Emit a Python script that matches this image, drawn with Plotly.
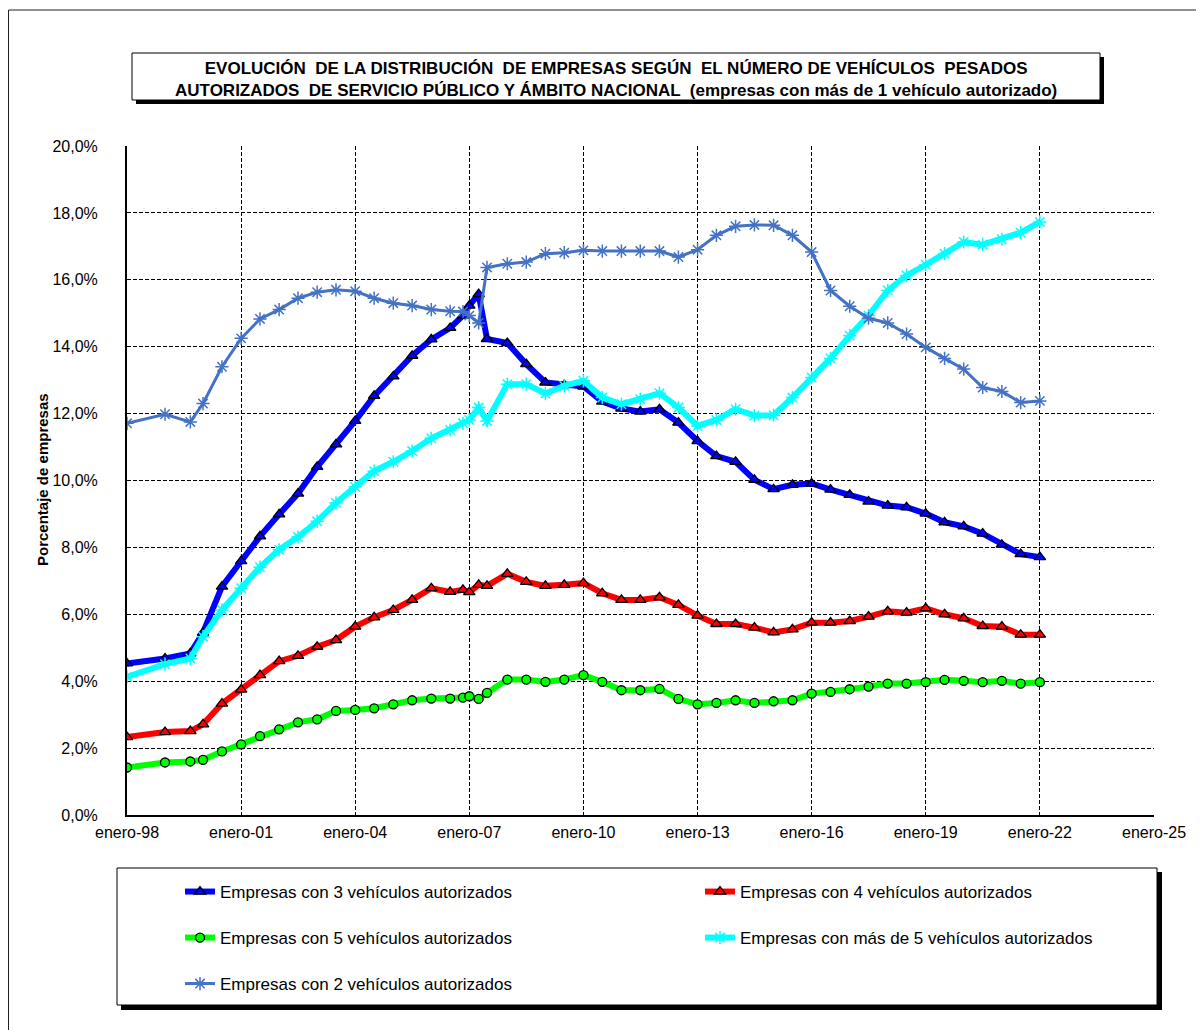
import plotly.graph_objects as go

# ---------------- data ----------------
fechas = ["1998-01-01", "1999-01-01", "1999-09-01", "2000-01-01", "2000-07-01",
          "2001-01-01", "2001-07-01", "2002-01-01", "2002-07-01", "2003-01-01",
          "2003-07-01", "2004-01-01", "2004-07-01", "2005-01-01", "2005-07-01",
          "2006-01-01", "2006-07-01", "2006-11-01", "2007-01-01", "2007-04-01",
          "2007-06-20", "2008-01-01", "2008-07-01", "2009-01-01", "2009-07-01",
          "2010-01-01", "2010-07-01", "2011-01-01", "2011-07-01", "2012-01-01",
          "2012-07-01", "2013-01-01", "2013-07-01", "2014-01-01", "2014-07-01",
          "2015-01-01", "2015-07-01", "2016-01-01", "2016-07-01", "2017-01-01",
          "2017-07-01", "2018-01-01", "2018-07-01", "2019-01-01", "2019-07-01",
          "2020-01-01", "2020-07-01", "2021-01-01", "2021-07-01", "2022-01-01"]

emp_3 = [4.53, 4.68, 4.83, 5.45, 6.83, 7.59, 8.33, 8.99, 9.61, 10.41, 11.08, 11.78,
         12.53, 13.11, 13.73, 14.22, 14.56, 14.93, 15.23, 15.57, 14.23,
         14.11, 13.48, 12.93, 12.85, 12.81, 12.36, 12.15, 12.06, 12.13, 11.73, 11.18,
         10.73, 10.56, 10.02, 9.74, 9.87, 9.91, 9.73, 9.57, 9.37, 9.25, 9.20, 9.01,
         8.75, 8.63, 8.41, 8.08, 7.80, 7.71]

emp_4 = [2.33, 2.48, 2.51, 2.71, 3.33, 3.75, 4.18, 4.60, 4.76, 5.03, 5.23, 5.63,
         5.91, 6.13, 6.43, 6.78, 6.67, 6.73, 6.66, 6.88, 6.85,
         7.21, 6.97, 6.85, 6.88, 6.93, 6.63, 6.43, 6.43, 6.51, 6.28, 5.96, 5.71,
         5.71, 5.60, 5.46, 5.55, 5.75, 5.75, 5.80, 5.93, 6.09, 6.05, 6.18, 6.00,
         5.88, 5.65, 5.63, 5.39, 5.39]

emp_5 = [1.42, 1.57, 1.60, 1.65, 1.90, 2.11, 2.36, 2.56, 2.77, 2.86, 3.11, 3.14,
         3.19, 3.31, 3.43, 3.48, 3.48, 3.51, 3.55, 3.47, 3.65,
         4.05, 4.05, 3.98, 4.05, 4.18, 3.98, 3.73, 3.73, 3.77, 3.47, 3.31, 3.35,
         3.43, 3.35, 3.40, 3.43, 3.63, 3.68, 3.76, 3.84, 3.93, 3.93, 3.97, 4.04,
         4.01, 3.97, 4.01, 3.93, 3.97]

emp_mas5 = [4.13, 4.51, 4.68, 5.33, 6.13, 6.78, 7.41, 7.93, 8.31, 8.78, 9.33, 9.81,
            10.28, 10.56, 10.88, 11.26, 11.51, 11.71, 11.81, 12.18, 11.78,
            12.88, 12.88, 12.60, 12.83, 12.98, 12.48, 12.28, 12.43, 12.61, 12.18,
            11.63, 11.81, 12.13, 11.94, 11.95, 12.48, 13.08, 13.65, 14.33, 14.93,
            15.68, 16.13, 16.45, 16.78, 17.13, 17.05, 17.21, 17.41, 17.73]

emp_2 = [11.71, 11.98, 11.75, 12.30, 13.40, 14.25, 14.83, 15.11, 15.45, 15.63, 15.70,
         15.66, 15.45, 15.30, 15.23, 15.11, 15.06, 15.05, 14.93, 14.71, 16.37,
         16.48, 16.53, 16.78, 16.81, 16.88, 16.86, 16.86, 16.86, 16.86, 16.68, 16.90,
         17.33, 17.60, 17.64, 17.63, 17.33, 16.83, 15.68, 15.21, 14.85, 14.71, 14.38,
         13.98, 13.65, 13.33, 12.78, 12.66, 12.33, 12.38]

series_names = ["Empresas con 3 vehículos autorizados",
                "Empresas con 4 vehículos autorizados",
                "Empresas con 5 vehículos autorizados",
                "Empresas con más de 5 vehículos autorizados",
                "Empresas con 2 vehículos autorizados"]

x_tick_vals = ["1998-01-01", "2001-01-01", "2004-01-01", "2007-01-01", "2010-01-01",
               "2013-01-01", "2016-01-01", "2019-01-01", "2022-01-01", "2025-01-01"]
x_tick_text = ["enero-98", "enero-01", "enero-04", "enero-07", "enero-10",
               "enero-13", "enero-16", "enero-19", "enero-22", "enero-25"]
y_tick_vals = [0, 2, 4, 6, 8, 10, 12, 14, 16, 18, 20]
y_tick_text = ["0,0%", "2,0%", "4,0%", "6,0%", "8,0%", "10,0%", "12,0%",
               "14,0%", "16,0%", "18,0%", "20,0%"]

title_l1 = "EVOLUCIÓN  DE LA DISTRIBUCIÓN  DE EMPRESAS SEGÚN  EL NÚMERO DE VEHÍCULOS  PESADOS"
title_l2 = "AUTORIZADOS  DE SERVICIO PÚBLICO Y ÁMBITO NACIONAL  (empresas con más de 1 vehículo autorizado)"
y_title = "Porcentaje de empresas"

# ---------------- layout helpers ----------------
# the page body adds an 8px margin, so the figure is drawn 8px in and 8px smaller
OFF = 8
W, H = 1204 - OFF, 1030 - OFF
ML, MR, MT, MB = 127 - OFF, 50, 146 - OFF, 215
PW = W - ML - MR
PH = H - MT - MB


def px(x):
    """screen pixel x -> paper fraction"""
    return (x - OFF - ML) / PW


def py(y):
    """screen pixel y (from top) -> paper fraction"""
    return (H - MB - (y - OFF)) / PH


FONT = "Liberation Sans, Arial, Helvetica, sans-serif"

fig = go.Figure()

styles = [
    dict(color="#0000FF", lw=6, sym="triangle-up", size=10, mcolor="#0000FF", mline="#000000", mlw=1.3),
    dict(color="#FF0000", lw=6, sym="triangle-up", size=10, mcolor="#FF0000", mline="#000000", mlw=1.3),
    dict(color="#00FF00", lw=6, sym="circle", size=9, mcolor="#00FF00", mline="#000000", mlw=1.3),
    dict(color="#00FFFF", lw=6, sym="asterisk-open", size=11, mcolor="#00FFFF", mline="#00FFFF", mlw=1.5),
    dict(color="#4472C4", lw=3, sym="asterisk-open", size=11, mcolor="#4472C4", mline="#4472C4", mlw=1.5),
]
values = [emp_3, emp_4, emp_5, emp_mas5, emp_2]
legend_ids = ["legend", "legend2", "legend3", "legend4", "legend5"]

for name, vals, st, lg in zip(series_names, values, styles, legend_ids):
    fig.add_trace(go.Scatter(
        x=fechas, y=vals, name=name, mode="lines+markers", legend=lg,
        line=dict(color=st["color"], width=st["lw"]),
        marker=dict(symbol=st["sym"], size=st["size"], color=st["mcolor"],
                    line=dict(color=st["mline"], width=st["mlw"])),
    ))

# legend positions (screen pixel: left edge of entry, row centre)
leg_pos = {"legend": (180, 892), "legend2": (700, 892), "legend3": (180, 938),
           "legend4": (700, 938), "legend5": (180, 984)}
legend_layout = {}
for lg, (lx, ly) in leg_pos.items():
    legend_layout[lg] = dict(x=px(lx), y=py(ly), xanchor="left", yanchor="middle",
                             bgcolor="rgba(0,0,0,0)", borderwidth=0,
                             font=dict(family=FONT, size=17, color="#000000"))

shapes = [
    # outer frame
    dict(type="rect", xref="paper", yref="paper", x0=px(8.5), x1=px(1240), y0=py(10), y1=py(1060),
         line=dict(color="#202020", width=1), fillcolor="rgba(0,0,0,0)", layer="below"),
    # title box shadow + box
    dict(type="rect", xref="paper", yref="paper", x0=px(136), x1=px(1104), y0=py(57), y1=py(104),
         line=dict(width=0), fillcolor="#000000", layer="below"),
    dict(type="rect", xref="paper", yref="paper", x0=px(132), x1=px(1100), y0=py(53), y1=py(100),
         line=dict(color="#000000", width=1), fillcolor="#FFFFFF", layer="below"),
    # legend box shadow + box
    dict(type="rect", xref="paper", yref="paper", x0=px(121), x1=px(1162), y0=py(872), y1=py(1010),
         line=dict(width=0), fillcolor="#000000", layer="below"),
    dict(type="rect", xref="paper", yref="paper", x0=px(117), x1=px(1157), y0=py(868), y1=py(1005),
         line=dict(color="#000000", width=1), fillcolor="#FFFFFF", layer="below"),
]

annotations = [
    dict(text="<b>" + title_l1 + "<br>" + title_l2 + "</b>", xref="paper", yref="paper",
         x=px(616), y=py(79), xanchor="center", yanchor="middle", showarrow=False,
         align="center", font=dict(family=FONT, size=17, color="#000000")),
    dict(text="<b>" + y_title + "</b>", xref="paper", yref="paper", x=px(42), y=py(480),
         xanchor="center", yanchor="middle", showarrow=False, textangle=-90,
         font=dict(family=FONT, size=15, color="#000000")),
]

fig.update_layout(
    width=W, height=H,
    margin=dict(l=ML, r=MR, t=MT, b=MB, autoexpand=False),
    paper_bgcolor="#FFFFFF", plot_bgcolor="#FFFFFF",
    font=dict(family=FONT, size=16, color="#000000"),
    showlegend=True,
    shapes=shapes,
    annotations=annotations,
    **legend_layout,
)

fig.update_xaxes(
    type="date", range=["1998-01-01", "2025-01-01"],
    tickmode="array", tickvals=x_tick_vals, ticktext=x_tick_text,
    showgrid=True, gridcolor="#000000", gridwidth=1, griddash="4px,2px",
    showline=True, linecolor="#000000", linewidth=2, zeroline=False,
    ticks="", ticklabelstandoff=2,
    tickfont=dict(family=FONT, size=16, color="#000000"),
)
fig.update_yaxes(
    range=[0, 20], tickmode="array", tickvals=y_tick_vals, ticktext=y_tick_text,
    showgrid=True, gridcolor="#000000", gridwidth=1, griddash="4px,2px",
    showline=True, linecolor="#000000", linewidth=2, zeroline=False,
    ticks="", ticklabelstandoff=24,
    tickfont=dict(family=FONT, size=16, color="#000000"),
)

fig.write_html("out.html")
